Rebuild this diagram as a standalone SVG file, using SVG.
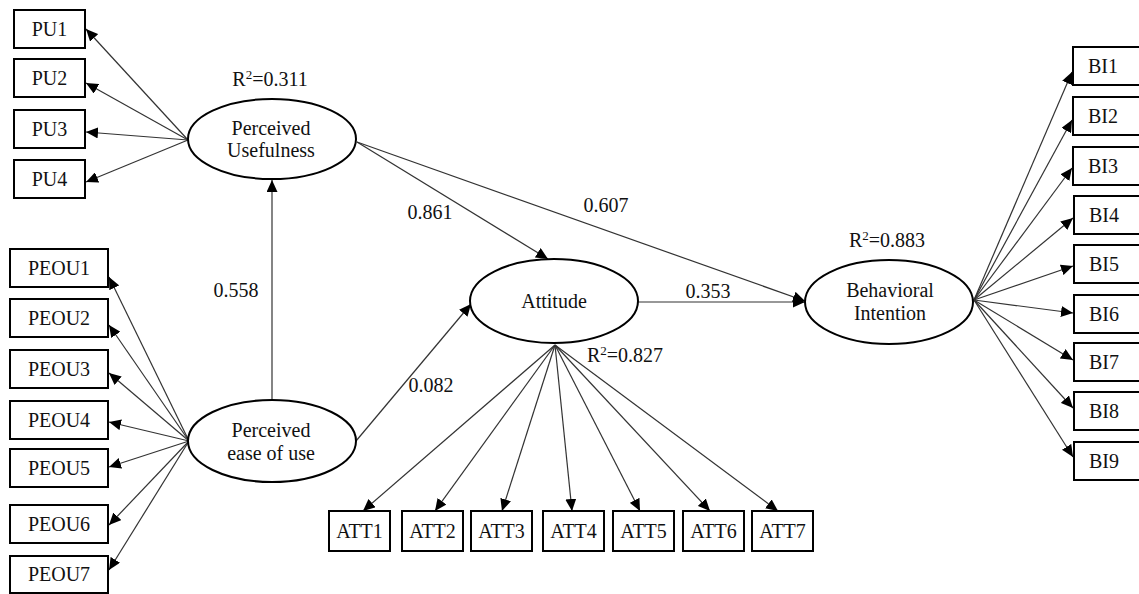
<svg xmlns="http://www.w3.org/2000/svg" width="1139" height="594" viewBox="0 0 1139 594">
<style>
text{font-family:"Liberation Serif","Times New Roman",serif;font-size:20px;fill:#111;}
.c{text-anchor:middle;}
.box{fill:#fff;stroke:#000;stroke-width:2;}
.ell{fill:#fff;stroke:#000;stroke-width:2;}
.ln{stroke:#333;stroke-width:1.2;fill:none;marker-end:url(#ah);}
</style>
<defs>
<marker id="ah" markerUnits="userSpaceOnUse" markerWidth="13" markerHeight="11" refX="12" refY="5.5" orient="auto">
<path d="M0,0 L12,5.5 L0,11 z" fill="#000"/>
</marker>
</defs>
<rect width="1139" height="594" fill="#fff"/>
<g id="connectors">
<line class="ln" x1="188" y1="140" x2="86" y2="29"/>
<line class="ln" x1="188" y1="140" x2="86" y2="83"/>
<line class="ln" x1="188" y1="140" x2="86" y2="132"/>
<line class="ln" x1="188" y1="140" x2="86" y2="182"/>
<line class="ln" x1="189" y1="441" x2="109" y2="277"/>
<line class="ln" x1="189" y1="441" x2="109" y2="325"/>
<line class="ln" x1="189" y1="441" x2="109" y2="373"/>
<line class="ln" x1="189" y1="441" x2="109" y2="422"/>
<line class="ln" x1="189" y1="441" x2="109" y2="467"/>
<line class="ln" x1="189" y1="441" x2="109" y2="525"/>
<line class="ln" x1="189" y1="441" x2="109" y2="570"/>
<line class="ln" x1="272" y1="400" x2="272" y2="180"/>
<line class="ln" x1="357" y1="142" x2="548" y2="259"/>
<line class="ln" x1="357" y1="142" x2="805" y2="301"/>
<line class="ln" x1="356" y1="441" x2="471" y2="304"/>
<line class="ln" x1="638" y1="302" x2="805" y2="302"/>
<line class="ln" x1="555" y1="345" x2="363" y2="511"/>
<line class="ln" x1="555" y1="345" x2="435" y2="511"/>
<line class="ln" x1="555" y1="345" x2="502" y2="511"/>
<line class="ln" x1="555" y1="345" x2="572" y2="511"/>
<line class="ln" x1="555" y1="345" x2="640" y2="511"/>
<line class="ln" x1="555" y1="345" x2="710" y2="511"/>
<line class="ln" x1="555" y1="345" x2="778" y2="511"/>
<line class="ln" x1="974" y1="300" x2="1072" y2="72"/>
<line class="ln" x1="974" y1="300" x2="1072" y2="120"/>
<line class="ln" x1="974" y1="300" x2="1072" y2="168"/>
<line class="ln" x1="974" y1="300" x2="1073" y2="218"/>
<line class="ln" x1="974" y1="300" x2="1073" y2="266"/>
<line class="ln" x1="974" y1="300" x2="1073" y2="313"/>
<line class="ln" x1="974" y1="300" x2="1073" y2="360"/>
<line class="ln" x1="974" y1="300" x2="1073" y2="408"/>
<line class="ln" x1="974" y1="300" x2="1073" y2="457"/>
</g>
<g id="labels">
<text class="c" x="270" y="86">R<tspan font-size="13" dy="-7">2</tspan><tspan dy="7">=0.311</tspan></text>
<text class="c" x="236" y="297">0.558</text>
<text class="c" x="430" y="219">0.861</text>
<text class="c" x="606" y="212">0.607</text>
<text class="c" x="708" y="298">0.353</text>
<text class="c" x="431" y="392">0.082</text>
<text x="587" y="362">R<tspan font-size="13" dy="-7">2</tspan><tspan dy="7">=0.827</tspan></text>
<text class="c" x="887" y="247">R<tspan font-size="13" dy="-7">2</tspan><tspan dy="7">=0.883</tspan></text>
</g>
<g id="PU"><ellipse class="ell" cx="272" cy="139" rx="84" ry="40"/><text class="c" x="271" y="135">Perceived</text><text class="c" x="271" y="157">Usefulness</text></g>
<g id="PEOU"><ellipse class="ell" cx="272" cy="441" rx="84" ry="41"/><text class="c" x="271" y="437">Perceived</text><text class="c" x="271" y="460">ease of use</text></g>
<g id="ATT"><ellipse class="ell" cx="554" cy="301" rx="84" ry="42"/><text class="c" x="554" y="308">Attitude</text></g>
<g id="BI"><ellipse class="ell" cx="889" cy="302" rx="84" ry="42"/><text class="c" x="890" y="297">Behavioral</text><text class="c" x="890" y="320">Intention</text></g>
<g id="PU1"><rect class="box" x="14" y="10" width="71" height="38"/><text class="c" x="49.5" y="36">PU1</text></g>
<g id="PU2"><rect class="box" x="14" y="59" width="71" height="38"/><text class="c" x="49.5" y="85">PU2</text></g>
<g id="PU3"><rect class="box" x="14" y="110" width="71" height="38"/><text class="c" x="49.5" y="136">PU3</text></g>
<g id="PU4"><rect class="box" x="14" y="160" width="71" height="38"/><text class="c" x="49.5" y="186">PU4</text></g>
<g id="PEOU1"><rect class="box" x="10" y="249" width="98" height="38"/><text class="c" x="59" y="275">PEOU1</text></g>
<g id="PEOU2"><rect class="box" x="10" y="299" width="98" height="38"/><text class="c" x="59" y="325">PEOU2</text></g>
<g id="PEOU3"><rect class="box" x="10" y="350" width="98" height="38"/><text class="c" x="59" y="376">PEOU3</text></g>
<g id="PEOU4"><rect class="box" x="10" y="401" width="98" height="38"/><text class="c" x="59" y="427">PEOU4</text></g>
<g id="PEOU5"><rect class="box" x="10" y="449" width="98" height="38"/><text class="c" x="59" y="475">PEOU5</text></g>
<g id="PEOU6"><rect class="box" x="10" y="505" width="98" height="38"/><text class="c" x="59" y="531">PEOU6</text></g>
<g id="PEOU7"><rect class="box" x="10" y="556" width="98" height="37"/><text class="c" x="59" y="581">PEOU7</text></g>
<g id="ATT1"><rect class="box" x="329" y="511" width="61" height="40"/><text class="c" x="359.5" y="538">ATT1</text></g>
<g id="ATT2"><rect class="box" x="402" y="511" width="61" height="40"/><text class="c" x="432.5" y="538">ATT2</text></g>
<g id="ATT3"><rect class="box" x="471" y="511" width="61" height="40"/><text class="c" x="501.5" y="538">ATT3</text></g>
<g id="ATT4"><rect class="box" x="543" y="511" width="61" height="40"/><text class="c" x="573.5" y="538">ATT4</text></g>
<g id="ATT5"><rect class="box" x="613" y="511" width="61" height="40"/><text class="c" x="643.5" y="538">ATT5</text></g>
<g id="ATT6"><rect class="box" x="683" y="511" width="61" height="40"/><text class="c" x="713.5" y="538">ATT6</text></g>
<g id="ATT7"><rect class="box" x="752" y="511" width="61" height="40"/><text class="c" x="782.5" y="538">ATT7</text></g>
<g id="BI1"><rect class="box" x="1073" y="47" width="70" height="38"/><text class="c" x="1103" y="73">BI1</text></g>
<g id="BI2"><rect class="box" x="1073" y="97" width="70" height="38"/><text class="c" x="1103" y="123">BI2</text></g>
<g id="BI3"><rect class="box" x="1073" y="147" width="70" height="38"/><text class="c" x="1103" y="173">BI3</text></g>
<g id="BI4"><rect class="box" x="1074" y="196" width="70" height="38"/><text class="c" x="1104" y="222">BI4</text></g>
<g id="BI5"><rect class="box" x="1074" y="245" width="70" height="38"/><text class="c" x="1104" y="271">BI5</text></g>
<g id="BI6"><rect class="box" x="1074" y="295" width="70" height="38"/><text class="c" x="1104" y="321">BI6</text></g>
<g id="BI7"><rect class="box" x="1074" y="343" width="70" height="38"/><text class="c" x="1104" y="369">BI7</text></g>
<g id="BI8"><rect class="box" x="1074" y="392" width="70" height="38"/><text class="c" x="1104" y="418">BI8</text></g>
<g id="BI9"><rect class="box" x="1074" y="442" width="70" height="38"/><text class="c" x="1104" y="468">BI9</text></g>
</svg>
